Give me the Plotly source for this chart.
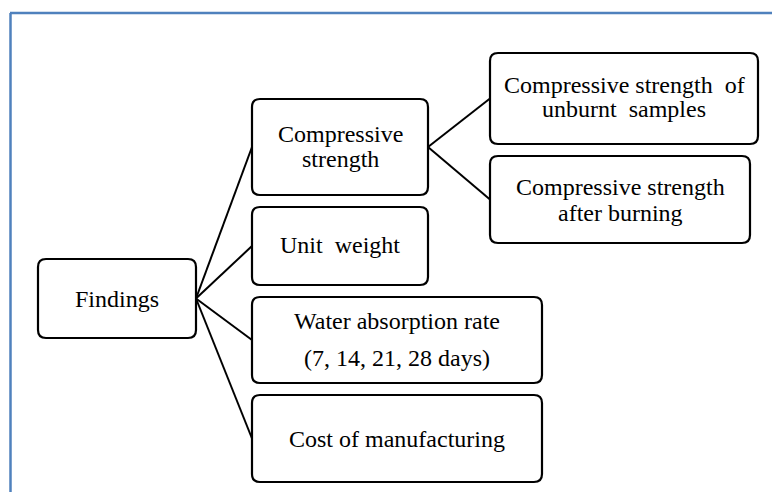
import plotly.graph_objects as go

# ---- content (text only) ----
root_label = ["Findings"]
branch_labels = [
    ["Compressive", "strength"],
    ["Unit  weight"],
    ["Water absorption rate", "(7, 14, 21, 28 days)"],
    ["Cost of manufacturing"],
]
sub_labels = [
    ["Compressive strength  of", "unburnt  samples"],
    ["Compressive strength", "after burning"],
]

# ---- layout geometry (pixels: x0, y0, x1, y1) ----
W, H = 772, 492
root_box = (38, 259, 196, 338)
branch_boxes = [
    (252, 99, 428, 195),
    (252, 207, 428, 285),
    (252, 297, 542, 383),
    (252, 395, 542, 482),
]
sub_boxes = [
    (490, 53, 758, 144),
    (490, 156, 750, 243),
]
# text baselines per box
root_base = [307]
branch_base = [[142, 167], [253], [329, 366], [447]]
sub_base = [[93, 117], [195, 221]]

FONT = dict(family="Liberation Serif, Times New Roman, serif", size=24, color="black")
R = 8

fig = go.Figure()
fig.add_trace(go.Scatter(x=[0, W], y=[0, H], mode="markers",
                         marker=dict(opacity=0), hoverinfo="skip", showlegend=False))

def rbox(b):
    x0, y0, x1, y1 = b
    return (f"M {x0+R},{y0} L {x1-R},{y0} Q {x1},{y0} {x1},{y0+R} "
            f"L {x1},{y1-R} Q {x1},{y1} {x1-R},{y1} L {x0+R},{y1} "
            f"Q {x0},{y1} {x0},{y1-R} L {x0},{y0+R} Q {x0},{y0} {x0+R},{y0} Z")

shapes = []
# blue frame
shapes.append(dict(type="line", x0=10, y0=13, x1=W, y1=13, line=dict(color="#4f81bd", width=2.5)))
shapes.append(dict(type="line", x0=10.5, y0=13, x1=10.5, y1=H, line=dict(color="#4f81bd", width=2.5)))

# connectors
rx, ry = root_box[2], (root_box[1] + root_box[3]) / 2
for b in branch_boxes:
    shapes.append(dict(type="line", x0=rx, y0=ry, x1=b[0], y1=(b[1] + b[3]) / 2,
                       line=dict(color="black", width=2)))
cx, cy = branch_boxes[0][2], (branch_boxes[0][1] + branch_boxes[0][3]) / 2
for b in sub_boxes:
    shapes.append(dict(type="line", x0=cx, y0=cy, x1=b[0], y1=(b[1] + b[3]) / 2,
                       line=dict(color="black", width=2)))

for b in [root_box] + branch_boxes + sub_boxes:
    shapes.append(dict(type="path", path=rbox(b), fillcolor="white",
                       line=dict(color="black", width=2.2)))

annotations = []
def add_text(box, lines, bases):
    xc = (box[0] + box[2]) / 2
    for t, base in zip(lines, bases):
        annotations.append(dict(x=xc, y=base - 8, text=t, showarrow=False,
                                xanchor="center", yanchor="middle", font=FONT))

add_text(root_box, root_label, root_base)
for b, l, bs in zip(branch_boxes, branch_labels, branch_base):
    add_text(b, l, bs)
for b, l, bs in zip(sub_boxes, sub_labels, sub_base):
    add_text(b, l, bs)

fig.update_layout(
    width=W, height=H, margin=dict(l=0, r=0, t=0, b=0),
    paper_bgcolor="white", plot_bgcolor="white",
    xaxis=dict(range=[0, W], visible=False, fixedrange=True),
    yaxis=dict(range=[H, 0], visible=False, fixedrange=True),
    shapes=shapes, annotations=annotations, showlegend=False,
)
fig.write_html("out.html", config={"displayModeBar": False},
               post_script="document.body.style.margin='0';document.body.style.overflow='hidden';")
